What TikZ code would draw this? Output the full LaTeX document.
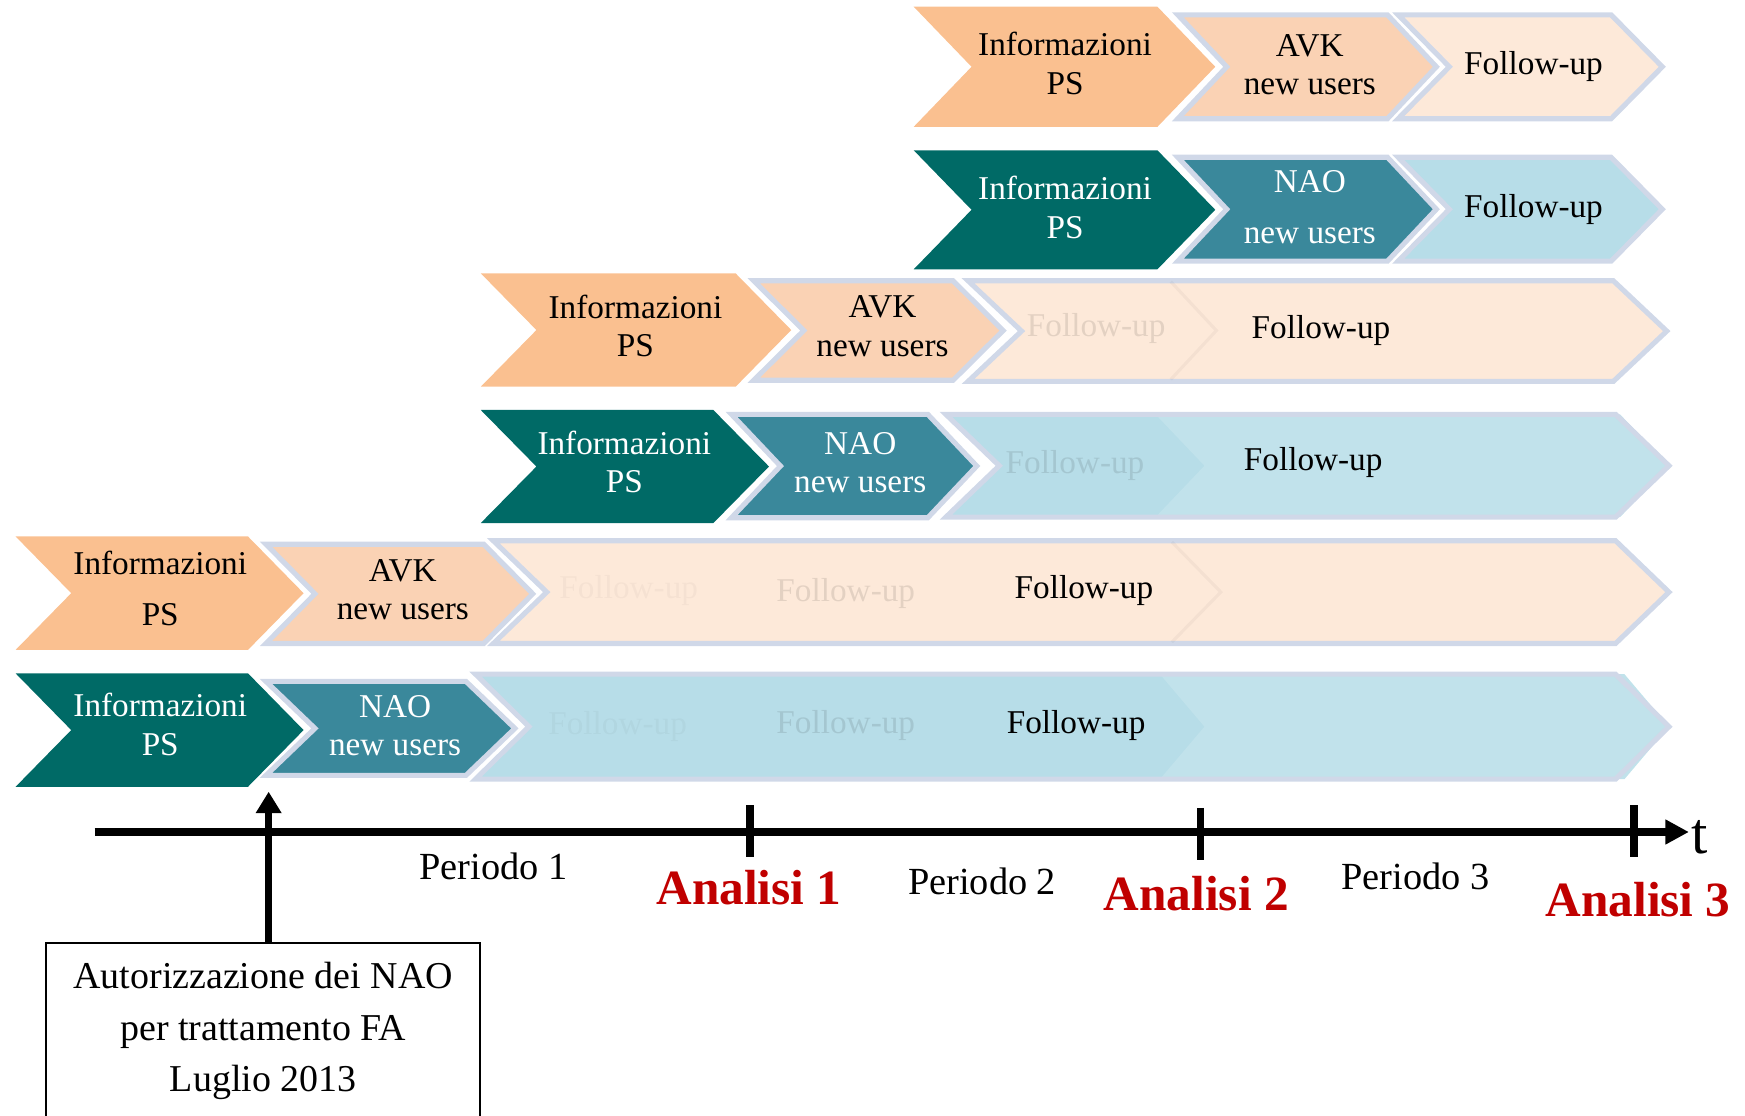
\documentclass[tikz,border=0pt]{standalone}
\usepackage{fontspec}
\setmainfont{Liberation Serif}
\usetikzlibrary{arrows.meta}
\definecolor{orA}{HTML}{FAC090}
\definecolor{orB}{HTML}{FAD2B4}
\definecolor{orC}{HTML}{FDE9D9}
\definecolor{tlA}{HTML}{006A66}
\definecolor{tlB}{HTML}{3A889B}
\definecolor{blC}{HTML}{B7DDE8}
\definecolor{blD}{HTML}{C1E2EB}
\definecolor{bordc}{HTML}{D0D8E8}
\definecolor{anred}{HTML}{C00000}
% chevron: style, left x, top y, tip x, bottom y, depth
\newcommand{\mychev}[6]{\path[#1] (#2,#3) -- ({#4-#6},#3) -- (#4,{(#3+#5)/2}) -- ({#4-#6},#5) -- (#2,#5) -- ({#2+#6},{(#3+#5)/2}) -- cycle;}
\newcommand{\myframed}[6]{\mychev{#1}{#2+2.3}{#3+2.3}{#4-2.3}{#5-2.3}{#6}}
\tikzset{
  oA/.style={fill=orA},
  tA/.style={fill=tlA},
  oB/.style={fill=orB, draw=bordc, line width=1.3pt, line join=miter},
  oC/.style={fill=orC, draw=bordc, line width=1.3pt, line join=miter},
  tB/.style={fill=tlB, draw=bordc, line width=1.3pt, line join=miter},
  tC/.style={fill=blC, draw=bordc, line width=1.3pt, line join=miter},
  tCfill/.style={fill=blC},
  tCright/.style={fill=blD},
  bordonly/.style={draw=bordc, line width=1.3pt, line join=miter},
  lab/.style={inner sep=0pt, align=center, font=\fontsize{8.5}{9.8}\selectfont},
  labw/.style={lab, text=white},
  loosetxt/.style={font=\fontsize{8.5}{13}\selectfont},
  ghost/.style={lab, text=black, text opacity=0.10},
  ghostfaint/.style={lab, text=black, text opacity=0.03},
  seam/.style={draw=black, draw opacity=0.035, line width=0.8pt},
  axisline/.style={line width=2pt},
  tickmark/.style={line width=2pt},
  per/.style={inner sep=0pt, anchor=base, font=\fontsize{9.8}{12}\selectfont},
  ana/.style={inner sep=0pt, anchor=base, text=anred, font=\fontsize{12.6}{14}\selectfont\bfseries},
}
\begin{document}
\begin{tikzpicture}[x=0.01cm, y=-0.01cm]
\useasboundingbox (0,0) rectangle (1568,1002);

% ---------- Row 1 ----------
\mychev{oA}{821}{6}{1092}{114}{52}
\myframed{oB}{1056}{11}{1293}{109}{44}
\myframed{oC}{1254}{11}{1496}{109}{46}
\node[lab] (i1) at (957,57) {Informazioni\\PS};
\node[lab] (a1) at (1177,58) {AVK\\new users};
\node[lab] (f1) at (1378,59.5) {Follow-up};

% ---------- Row 2 ----------
\mychev{tA}{821}{135}{1092}{242}{52}
\myframed{tB}{1056}{139}{1293}{237}{44}
\myframed{tC}{1254}{139}{1496}{237}{46}
\node[labw] (i2) at (957,186.5) {Informazioni\\PS};
\node[labw, loosetxt] (n2) at (1177,186) {NAO\\new users};
\node[lab] (f2) at (1378,188) {Follow-up};

% ---------- Row 3 ----------
\mychev{oA}{432}{245.6}{711}{347.5}{50}
\myframed{oB}{675}{250}{903.7}{344}{45}
\myframed{oC}{867.6}{250}{1500}{345}{48}
\draw[seam] (1052,253) -- (1093,297) -- (1052,341);
\node[lab] (i3) at (571,293) {Informazioni\\PS};
\node[lab] (a3) at (793,293) {AVK\\new users};
\node[ghost] (g3) at (985,295) {Follow-up};
\node[lab] (f3) at (1187,297) {Follow-up};

% ---------- Row 4 ----------
\mychev{tA}{432}{368.4}{691}{470}{50}
\myframed{tB}{655}{370}{880}{467.5}{44}
\myframed{tCfill}{847.6}{370}{1502}{467}{48}
\myframed{tCright}{1036}{370}{1502}{467}{44}
\myframed{bordonly}{847.6}{370}{1502}{467}{48}
\node[labw] (i4) at (561,415) {Informazioni\\PS};
\node[labw] (n4) at (773,416) {NAO\\new users};
\node[ghost] (g4) at (966,418) {Follow-up};
\node[lab] (f4) at (1180,416) {Follow-up};

% ---------- Row 5 ----------
\mychev{oA}{14}{482}{272.8}{584}{50}
\myframed{oB}{236.7}{486.7}{481}{580.5}{44}
\myframed{oC}{441}{483.6}{1502}{580.5}{48}
\draw[seam] (1053,487) -- (1097,532) -- (1053,577);
\node[lab, loosetxt] (i5) at (144,529) {Informazioni\\PS};
\node[lab] (a5) at (362,530) {AVK\\new users};
\node[ghostfaint] (g5a) at (565,531) {Follow-up};
\node[ghost] (g5b) at (760,533) {Follow-up};
\node[lab] (f5) at (974,531) {Follow-up};

% ---------- Row 6 ----------
\mychev{tA}{14}{605}{272.8}{707}{50}
\myframed{tB}{236.7}{610}{465}{699}{44}
\myframed{tCfill}{425}{603.5}{1502}{702.4}{48}
\myframed{tCright}{1040}{603.5}{1502}{702.4}{40}
\myframed{bordonly}{425}{603.5}{1502}{702.4}{48}
\node[labw] (i6) at (144,651) {Informazioni\\PS};
\node[labw] (n6) at (355,652) {NAO\\new users};
\node[ghostfaint] (g6a) at (555,653) {Follow-up};
\node[ghost] (g6b) at (760,652) {Follow-up};
\node[lab] (f6) at (967,652) {Follow-up};

% ---------- Time axis ----------
\coordinate (axstart) at (85,747.6);
\coordinate (axend) at (1517.6,747.6);
\draw[axisline, -{Triangle[length=6pt,width=6pt]}] (axstart) -- (axend);
\coordinate (t1a) at (674,723.4);   \coordinate (t1b) at (674,769.8);
\coordinate (t2a) at (1078.8,726);  \coordinate (t2b) at (1078.8,772.8);
\coordinate (t3a) at (1468.6,723.4); \coordinate (t3b) at (1468.6,769.8);
\draw[tickmark] (t1a) -- (t1b);
\draw[tickmark] (t2a) -- (t2b);
\draw[tickmark] (t3a) -- (t3b);
\node[inner sep=0pt, anchor=base, font=\fontsize{15}{16}\selectfont] (tlab) at (1527,766.6) {t};

\node[per] (p1) at (443.6,790.7) {Periodo 1};
\node[per] (p2) at (882.5,804) {Periodo 2};
\node[per] (p3) at (1272,799.7) {Periodo 3};
\node[ana] (an1) at (673,812.3) {Analisi 1};
\node[ana] (an2) at (1075,818.3) {Analisi 2};
\node[ana] (an3) at (1472,823.7) {Analisi 3};

% ---------- Authorisation box ----------
\node[draw, line width=0.5pt, anchor=north, minimum width=111pt, inner ysep=5pt,
      text depth=14pt, align=center, font=\fontsize{9.7}{13.1}\selectfont]
      (auth) at (236.5,846.5) {Autorizzazione dei NAO\\per trattamento FA\\Luglio 2013};
\coordinate (authtip) at (241.4,711.4);
\draw[line width=1.9pt, -{Triangle[length=5.5pt,width=6.3pt]}] (authtip |- auth.north) -- (authtip);
\end{tikzpicture}
\end{document}
